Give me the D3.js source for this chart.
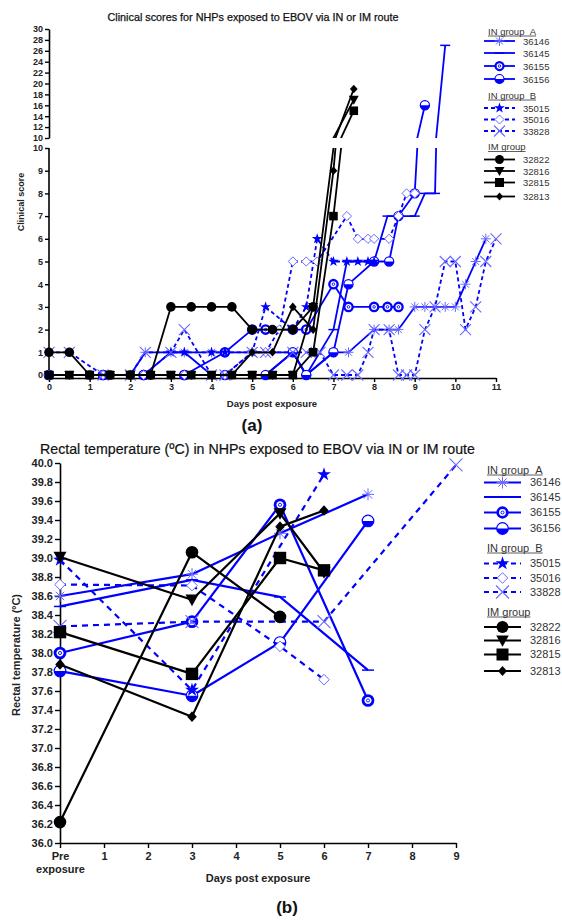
<!DOCTYPE html>
<html><head><meta charset="utf-8">
<script src="https://cdn.jsdelivr.net/npm/d3@7"></script>
<style>
body{margin:0;background:#fff}
svg{display:block}
text{font-family:"Liberation Sans",Arial,sans-serif}
</style>
</head><body>
<svg id="c" width="562" height="920"></svg>
<script>
// ---------------- DATA ----------------
// Clinical scores [day, score]
const cs36146 = [[0,0],[1.33,0],[2,0],[2.37,1],[3,1],[3.33,1],[4,1],[4.33,1],[5,1],[5.33,1],[6,1],[6.33,0],[7,1],[7.37,1],[8,2],[8.37,2],[8.6,2],[9,3],[9.25,3],[9.5,3],[9.75,3],[10,3],[10.25,4],[10.5,5],[10.75,6]];
const cs36145 = [[0,0],[1.33,0],[2.33,0],[3,1],[3.33,1],[4,0],[4.33,0],[5,0],[5.33,0],[6,1],[6.33,0],[7,2],[7.33,5],[8,5],[8.33,7],[8.6,7],[9,7],[9.25,8],[9.5,8],[9.75,27]];
const cs36155 = [[0,0],[1.33,0],[2.33,0],[3.33,0],[4.33,1],[5,2],[5.33,2],[6,2],[6.33,2],[7,4],[7.37,3],[8,3],[8.33,3],[8.6,3]];
const cs36156 = [[0,0],[1.33,0],[2.33,0],[3.33,0],[4.33,0],[5.33,0],[6,1],[6.33,0],[7,1],[7.37,4],[8,5],[8.37,5],[8.6,7],[9,8],[9.25,16]];
const cs35015 = [[0,0],[1.33,0],[2.33,0],[3,1],[3.33,1],[4,1],[4.33,1],[5,1],[5.33,3],[6,2],[6.33,3],[6.6,6],[7,5],[7.33,5],[7.6,5],[7.85,5],[8,5]];
const cs35016 = [[0,0],[1.33,0],[2.33,0],[3.33,0],[4.33,0],[5,1],[5.33,1],[5.67,2],[6,5],[6.33,5],[6.6,5],[7.33,7],[7.6,6],[7.85,6],[8,6],[8.37,6],[8.6,7],[8.8,8],[9,8]];
const cs33828 = [[0,1],[0.5,1],[1.33,0],[2,0],[2.37,1],[3,1],[3.33,2],[4,0],[4.33,0],[5,1],[5.33,1],[6,1],[6.33,1],[6.67,1],[7,0],[7.33,0],[7.6,0],[7.85,1],[8,2],[8.37,2],[8.6,0],[8.8,0],[9,0],[9.25,2],[9.5,3],[9.75,5],[10,5],[10.25,2],[10.5,3],[10.75,5],[11,6]];
const cs32822 = [[0,1],[0.5,1],[1,0],[1.5,0],[2,0],[2.5,0],[3,3],[3.5,3],[4,3],[4.5,3],[5,2],[5.5,2],[6,2],[6.5,3]];
const cs32816 = [[0,0],[0.5,0],[1,0],[1.5,0],[2,0],[2.5,0],[3,0],[3.5,0],[4,0],[4.5,0],[5,0],[5.5,0],[6,0],[6.5,3],[7.5,17]];
const cs32815 = [[0,0],[0.5,0],[1,0],[1.5,0],[2,0],[2.5,0],[3,0],[3.5,0],[4,0],[4.5,0],[5,0],[5.5,0],[6,0],[6.5,1],[7,7],[7.5,15]];
const cs32813 = [[0,0],[0.5,0],[1,0],[1.5,0],[2,0],[2.5,0],[3,0],[3.5,0],[4,0],[4.5,0],[5,1],[5.5,1],[6,3],[6.5,2],[7,9],[7.5,19]];

// Rectal temperature [day, °C]  (day 0 = pre exposure)
const rt36146 = [[0,38.60],[3,38.83],[5,39.26],[7,39.67]];
const rt36145 = [[0,38.49],[3,38.77],[5,38.59],[7,37.82]];
const rt36155 = [[0,38.00],[3,38.33],[5,39.56],[7,37.50]];
const rt36156 = [[0,37.81],[3,37.55],[5,38.11],[7,39.39]];
const rt35015 = [[0,38.98],[3,37.61],[6,39.88]];
const rt35016 = [[0,38.72],[3,38.71],[5,38.07],[6,37.72]];
const rt33828 = [[0,38.28],[3,38.33],[6,38.33],[9,39.98]];
const rt32822 = [[0,36.22],[3,39.06],[5,38.38]];
const rt32816 = [[0,39.01],[3,38.56],[5,39.47],[6,38.85]];
const rt32815 = [[0,38.22],[3,37.78],[5,39.00],[6,38.87]];
const rt32813 = [[0,37.88],[3,37.33],[5,39.33],[6,39.50]];

const seriesIds = ["36146","36145","36155","36156","35015","35016","33828","32822","32816","32815","32813"];
const groupTitles = ["IN group\u00a0\u00a0A","IN group\u00a0\u00a0B","IM group"];
const groupMembers = [["36146","36145","36155","36156"],["35015","35016","33828"],["32822","32816","32815","32813"]];
const clinicalTicksLow = [0,1,2,3,4,5,6,7,8,9,10];
const clinicalTicksHigh = [10,12,14,16,18,20,22,24,26,28,30];
const clinicalDayTicks = [0,1,2,3,4,5,6,7,8,9,10,11];
const tempTicks = d3.range(0,21).map(i=>36+i*0.2);
const tempDayTicks = [0,1,2,3,4,5,6,7,8,9];

const clinical = {"36146":cs36146,"36145":cs36145,"36155":cs36155,"36156":cs36156,"35015":cs35015,"35016":cs35016,"33828":cs33828,"32822":cs32822,"32816":cs32816,"32815":cs32815,"32813":cs32813};
const temps = {"36146":rt36146,"36145":rt36145,"36155":rt36155,"36156":rt36156,"35015":rt35015,"35016":rt35016,"33828":rt33828,"32822":rt32822,"32816":rt32816,"32815":rt32815,"32813":rt32813};

// ---------------- STYLE ----------------
const BLUE="#0000ff", LIGHT="#6a6aff", BLACK="#000";
const style = {
  "36146":{c:BLUE,dash:false,m:"asterisk"},
  "36145":{c:BLUE,dash:false,m:"dash"},
  "36155":{c:BLUE,dash:false,m:"ring"},
  "36156":{c:BLUE,dash:false,m:"half"},
  "35015":{c:BLUE,dash:true,m:"star"},
  "35016":{c:BLUE,dash:true,m:"odiamond"},
  "33828":{c:BLUE,dash:true,m:"x"},
  "32822":{c:BLACK,dash:false,m:"circle"},
  "32816":{c:BLACK,dash:false,m:"tri"},
  "32815":{c:BLACK,dash:false,m:"square"},
  "32813":{c:BLACK,dash:false,m:"diamond"}
};

function marker(g,type,x,y,r,col){
  const t=g.append("g").attr("transform",`translate(${x},${y})`);
  switch(type){
    case "circle": t.append("circle").attr("r",r).attr("fill",col); break;
    case "square": t.append("rect").attr("x",-r).attr("y",-r).attr("width",2*r).attr("height",2*r).attr("fill",col); break;
    case "tri": t.append("path").attr("d",`M${-r},${-r*0.8}L${r},${-r*0.8}L0,${r*1.0}Z`).attr("fill",col); break;
    case "diamond": t.append("path").attr("d",`M0,${-r}L${r*0.9},0L0,${r}L${-r*0.9},0Z`).attr("fill",col); break;
    case "star": { const R=r*1.25; t.append("path").attr("d",d3.symbol(d3.symbolStar,R*R/0.8908)()).attr("fill",col); break; }
    case "odiamond": t.append("path").attr("d",`M0,${-r}L${r},0L0,${r}L${-r},0Z`).attr("fill","#fff").attr("stroke",LIGHT).attr("stroke-width",1); break;
    case "asterisk": { const a=r*0.7; t.append("path").attr("d",`M0,${-r}V${r}M${-a},${-a}L${a},${a}M${-a},${a}L${a},${-a}M${-r},0H${r}`).attr("stroke",LIGHT).attr("stroke-width",1).attr("fill","none"); break; }
    case "x": t.append("path").attr("d",`M${-r},${-r}L${r},${r}M${-r},${r}L${r},${-r}`).attr("stroke",LIGHT).attr("stroke-width",1.1).attr("fill","none"); break;
    case "dash": t.append("path").attr("d",`M${-r},0H${r}`).attr("stroke",col).attr("stroke-width",1.5); break;
    case "ring": t.append("circle").attr("r",r*0.8).attr("fill","#fff").attr("stroke",col).attr("stroke-width",r*0.45);
                 t.append("circle").attr("r",r*0.25).attr("fill","none").attr("stroke",col).attr("stroke-width",0.9); break;
    case "half": t.append("circle").attr("r",r).attr("fill","#fff").attr("stroke",col).attr("stroke-width",1.2);
                 t.append("path").attr("d",`M${-r},0A${r},${r} 0 0,0 ${r},0Z`).attr("fill",col); break;
  }
}

const svg=d3.select("#c");
const defs=svg.append("defs");

// ================= TOP CHART =================
const xT=d3.scaleLinear().domain([0,11]).range([49,496]);
const yLo=d3.scaleLinear().domain([0,10]).range([375,148]);
const yHi=d3.scaleLinear().domain([10,30]).range([138,29]);
const axisYTop=378;

defs.append("clipPath").attr("id","clipLo").append("rect").attr("x",0).attr("y",yLo(10)).attr("width",562).attr("height",260);
defs.append("clipPath").attr("id","clipHi").append("rect").attr("x",0).attr("y",0).attr("width",562).attr("height",yHi(10));

svg.append("text").attr("x",253).attr("y",21).attr("text-anchor","middle").attr("font-size",10.8).attr("fill","#111")
  .attr("stroke","#111").attr("stroke-width",0.25).text("Clinical scores for NHPs exposed to EBOV via IN or IM route");

function styleAxis(g,fs){
  g.selectAll("path.domain").attr("stroke","#000").attr("stroke-width",1.6);
  g.selectAll(".tick line").attr("stroke","#000").attr("stroke-width",1.4);
  g.selectAll(".tick text").attr("font-size",fs).attr("font-weight","bold").attr("fill","#222")
    .attr("font-family","'Liberation Sans',Arial,sans-serif");
}
const gLoAx=svg.append("g").attr("transform",`translate(${xT(0)},0)`)
  .call(d3.axisLeft(yLo).tickValues(clinicalTicksLow).tickSize(4).tickSizeOuter(0).tickPadding(2));
styleAxis(gLoAx,9);
gLoAx.select("path.domain").attr("d",`M0,${yLo(10)}V${axisYTop}`);
const gHiAx=svg.append("g").attr("transform",`translate(${xT(0)},0)`)
  .call(d3.axisLeft(yHi).tickValues(clinicalTicksHigh).tickSize(4).tickSizeOuter(0).tickPadding(2));
styleAxis(gHiAx,9);
const gXT=svg.append("g").attr("transform",`translate(0,${axisYTop})`)
  .call(d3.axisBottom(xT).tickValues(clinicalDayTicks).tickSize(4).tickSizeOuter(0).tickPadding(2));
styleAxis(gXT,9);

svg.append("text").attr("transform",`translate(24,202) rotate(-90)`).attr("text-anchor","middle")
  .attr("font-size",9).attr("font-weight","bold").attr("fill","#222").text("Clinical score");
svg.append("text").attr("x",272).attr("y",407).attr("text-anchor","middle")
  .attr("font-size",9.5).attr("font-weight","bold").attr("fill","#222").text("Days post exposure");

const lineLo=d3.line().x(d=>xT(d[0])).y(d=>yLo(d[1]));
const lineHi=d3.line().x(d=>xT(d[0])).y(d=>yHi(d[1]));
const topSize={circle:4.8,tri:5,square:4.3,diamond:4.3,star:4.5,odiamond:4.6,asterisk:5,x:5.5,dash:5,ring:5.2,half:4.6};

seriesIds.forEach(id=>{
  const s=style[id], d=clinical[id];
  const g=svg.append("g");
  [["clipLo",lineLo],["clipHi",lineHi]].forEach(([cp,ln])=>{
    g.append("path").attr("d",ln(d)).attr("clip-path",`url(#${cp})`).attr("fill","none")
      .attr("stroke",s.c).attr("stroke-width",1.8).attr("stroke-dasharray",s.dash?"4,3":null).attr("stroke-linejoin","round");
  });
  d.forEach(p=>{
    const y = p[1]<=10 ? yLo(p[1]) : yHi(p[1]);
    marker(g,s.m,xT(p[0]),y,topSize[s.m],s.c);
  });
});

// legends
function legend(x0,headerYs,rowYs,lineX0,lineX1,labelX,fs,sizes,dashPat,lw){
  groupTitles.forEach((t,gi)=>{
    const tx=svg.append("text").attr("x",x0).attr("y",headerYs[gi]+3.5).attr("font-size",fs).attr("fill","#333").text(t);
    const w=tx.node().getComputedTextLength();
    svg.append("line").attr("x1",x0).attr("x2",x0+w).attr("y1",headerYs[gi]+5).attr("y2",headerYs[gi]+5).attr("stroke","#333").attr("stroke-width",0.8);
    groupMembers[gi].forEach((id,k)=>{
      const y=rowYs[gi][k], s=style[id], g=svg.append("g");
      g.append("line").attr("x1",lineX0).attr("x2",lineX1).attr("y1",y).attr("y2",y).attr("stroke",s.c)
        .attr("stroke-width",lw).attr("stroke-dasharray",s.dash?dashPat:null);
      marker(g,s.m,(lineX0+lineX1)/2,y,sizes[s.m],s.c);
      svg.append("text").attr("x",labelX).attr("y",y+3.5).attr("font-size",fs).attr("fill","#333").text(id);
    });
  });
}
legend(488,[31,95,146.5],[[41,53,66,79],[108,119.5,131],[159.5,171,182.5,196.5]],484,515,523,9.5,
  {circle:4.5,tri:5,square:4.5,diamond:4,star:4.5,odiamond:4.5,asterisk:5,x:5.5,dash:5,ring:5,half:4.5},"4,3",1.8);

// (a)
svg.append("text").attr("x",252).attr("y",431).attr("text-anchor","middle").attr("font-size",17)
  .attr("font-family","'Liberation Serif','DejaVu Serif',serif").attr("font-weight","bold").attr("fill","#111").text("(a)");

// ================= BOTTOM CHART =================
const xB=d3.scaleLinear().domain([0,9]).range([60,456]);
const yB=d3.scaleLinear().domain([36,40]).range([843,463]);

svg.append("text").attr("x",40).attr("y",454).attr("font-size",14.2).attr("fill","#111")
  .attr("stroke","#111").attr("stroke-width",0.2).text("Rectal temperature (ºC) in NHPs exposed to EBOV via IN or IM route");

const gYB=svg.append("g").attr("transform",`translate(${xB(0)},0)`)
  .call(d3.axisLeft(yB).tickValues(tempTicks).tickFormat(d3.format(".1f")).tickSize(5).tickSizeOuter(0).tickPadding(2));
styleAxis(gYB,11);
const gXB=svg.append("g").attr("transform",`translate(0,${yB(36)})`)
  .call(d3.axisBottom(xB).tickValues(tempDayTicks).tickFormat(d=>d===0?"":d).tickSize(5).tickSizeOuter(0).tickPadding(4));
styleAxis(gXB,11);
const t0=gXB.selectAll(".tick").filter(d=>d===0).select("text");
t0.append("tspan").attr("x",0).attr("dy","0.71em").text("Pre");
t0.append("tspan").attr("x",0).attr("dy","1.2em").text("exposure");
t0.attr("dy",null).attr("y",9);

svg.append("text").attr("transform",`translate(20,655) rotate(-90)`).attr("text-anchor","middle")
  .attr("font-size",11).attr("font-weight","bold").attr("fill","#222").text("Rectal temperature (ºC)");
svg.append("text").attr("x",258).attr("y",882).attr("text-anchor","middle")
  .attr("font-size",11).attr("font-weight","bold").attr("fill","#222").text("Days post exposure");

const lineB=d3.line().x(d=>xB(d[0])).y(d=>yB(d[1]));
const botSize={circle:6.3,tri:6.5,square:6.2,diamond:5.3,star:5.8,odiamond:5.3,asterisk:6,x:6.5,dash:6,ring:6.2,half:5.8};
seriesIds.forEach(id=>{
  const s=style[id], d=temps[id];
  const g=svg.append("g");
  g.append("path").attr("d",lineB(d)).attr("fill","none").attr("stroke",s.c).attr("stroke-width",2.2)
    .attr("stroke-dasharray",s.dash?"6,5":null).attr("stroke-linejoin","round");
  d.forEach(p=>marker(g,s.m,xB(p[0]),yB(p[1]),botSize[s.m],s.c));
});

legend(487,[470,548,612],[[482.5,497,512.5,528.5],[563.5,578,592],[627,640.5,654.5,671]],484,521,530,11,
  {circle:6,tri:6.3,square:6,diamond:5,star:5.8,odiamond:5.3,asterisk:6,x:6.5,dash:6,ring:6,half:5.8},"5,4",2.2);

// (b)
svg.append("text").attr("x",287).attr("y",913).attr("text-anchor","middle").attr("font-size",17)
  .attr("font-family","'Liberation Serif','DejaVu Serif',serif").attr("font-weight","bold").attr("fill","#111").text("(b)");
</script>
</body></html>
